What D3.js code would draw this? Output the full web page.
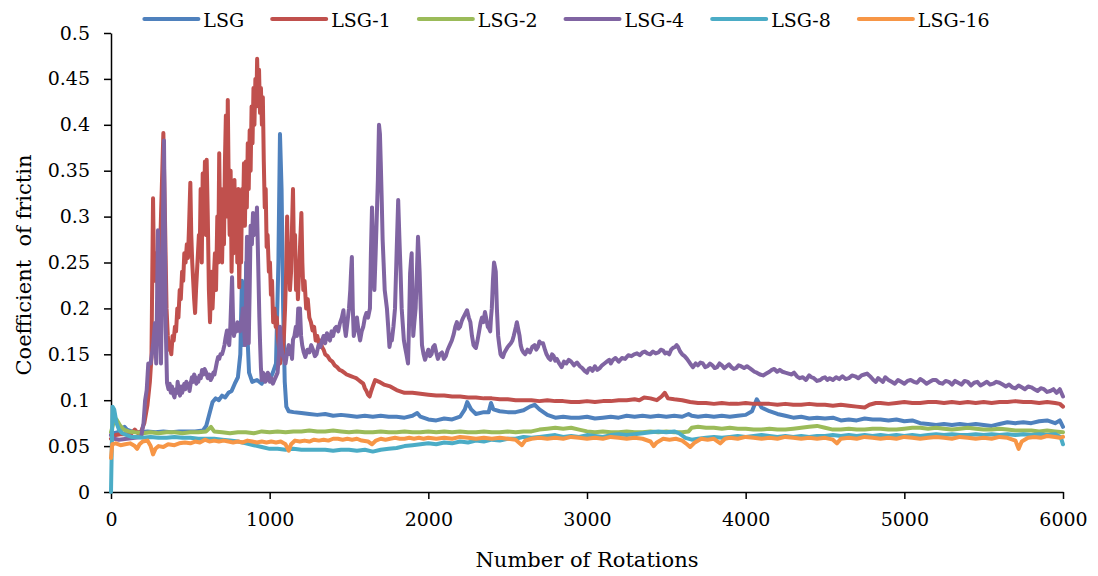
<!DOCTYPE html>
<html lang="en">
  <head>
    <meta charset="utf-8">
    <title>Coefficient of friction vs rotations</title>
    <script src="https://d3js.org/d3.v7.min.js"></script>
    <style>
      body { margin: 0; background: #fff; }
      svg text { font-family: "DejaVu Serif", serif; fill: #000; }
      .axis path, .axis line { stroke: #000; stroke-width: 1.5px; }
    </style>
  </head>
  <body>
    <div id="chart"></div>
    <script>
    // [rotations, coefficient of friction]
    const lsg = [[0,0.062],[20,0.064],[60,0.066],[85,0.071],[100,0.068],[130,0.066],[180,0.065],[230,0.066],[280,0.065],[330,0.066],[380,0.065],[430,0.066],[480,0.066],[530,0.066],[580,0.067],[600,0.072],[620,0.085],[640,0.098],[660,0.102],[680,0.100],[700,0.105],[720,0.103],[740,0.108],[760,0.110],[780,0.118],[800,0.125],[815,0.150],[825,0.230],[832,0.160],[845,0.170],[852,0.250],[860,0.170],[870,0.130],[890,0.120],[920,0.122],[950,0.118],[980,0.125],[1000,0.122],[1020,0.130],[1040,0.140],[1055,0.250],[1065,0.390],[1075,0.330],[1085,0.200],[1095,0.120],[1105,0.093],[1120,0.088],[1150,0.087],[1200,0.086],[1250,0.085],[1300,0.084],[1350,0.085],[1400,0.083],[1450,0.084],[1500,0.083],[1550,0.082],[1600,0.083],[1650,0.082],[1700,0.083],[1750,0.082],[1800,0.082],[1850,0.081],[1900,0.083],[1930,0.086],[1950,0.082],[2000,0.079],[2050,0.078],[2100,0.080],[2150,0.079],[2200,0.082],[2230,0.090],[2245,0.098],[2270,0.090],[2300,0.085],[2350,0.087],[2380,0.087],[2395,0.097],[2410,0.090],[2450,0.088],[2500,0.087],[2550,0.087],[2600,0.089],[2640,0.093],[2670,0.095],[2700,0.090],[2750,0.084],[2800,0.081],[2850,0.082],[2900,0.081],[2950,0.081],[3000,0.082],[3050,0.080],[3100,0.081],[3150,0.082],[3200,0.081],[3250,0.083],[3300,0.082],[3350,0.083],[3400,0.082],[3450,0.083],[3500,0.082],[3550,0.083],[3600,0.082],[3640,0.085],[3660,0.083],[3700,0.082],[3750,0.083],[3800,0.082],[3850,0.083],[3900,0.082],[3950,0.083],[4000,0.084],[4040,0.088],[4070,0.101],[4100,0.092],[4150,0.088],[4200,0.085],[4250,0.083],[4300,0.081],[4350,0.082],[4400,0.080],[4450,0.081],[4500,0.080],[4550,0.081],[4600,0.078],[4650,0.079],[4700,0.078],[4750,0.080],[4800,0.079],[4850,0.079],[4900,0.078],[4950,0.079],[5000,0.077],[5050,0.078],[5100,0.075],[5150,0.074],[5200,0.073],[5250,0.074],[5300,0.073],[5350,0.074],[5400,0.073],[5450,0.074],[5500,0.073],[5550,0.072],[5600,0.074],[5650,0.076],[5700,0.075],[5750,0.076],[5800,0.075],[5850,0.077],[5900,0.078],[5950,0.075],[5980,0.078],[6000,0.071]]

    const lsg1 = [[0,0.058],[30,0.062],[60,0.063],[100,0.063],[130,0.064],[150,0.068],[170,0.064],[190,0.066],[210,0.075],[230,0.095],[245,0.12],[255,0.147],[265,0.32],[272,0.23],[285,0.26],[300,0.2],[315,0.3],[330,0.391],[340,0.3],[350,0.2],[358,0.17],[365,0.155],[372,0.16],[380,0.15],[388,0.17],[395,0.165],[403,0.18],[410,0.175],[418,0.2],[425,0.19],[433,0.22],[440,0.21],[448,0.24],[455,0.23],[462,0.26],[470,0.25],[478,0.27],[485,0.255],[492,0.29],[500,0.337],[506,0.28],[512,0.25],[518,0.23],[524,0.21],[530,0.195],[536,0.22],[542,0.24],[548,0.26],[554,0.28],[560,0.27],[565,0.33],[572,0.25],[578,0.347],[585,0.3],[592,0.36],[598,0.28],[603,0.362],[610,0.3],[617,0.22],[624,0.185],[632,0.24],[640,0.2],[647,0.23],[655,0.26],[662,0.22],[670,0.3],[676,0.25],[682,0.369],[688,0.28],[694,0.33],[700,0.25],[706,0.3],[712,0.27],[718,0.36],[724,0.41],[730,0.3],[736,0.427],[742,0.33],[748,0.28],[754,0.35],[760,0.24],[766,0.3],[772,0.26],[778,0.34],[784,0.27],[790,0.32],[796,0.25],[802,0.33],[808,0.223],[814,0.28],[820,0.25],[826,0.33],[832,0.3],[838,0.358],[844,0.29],[850,0.36],[856,0.31],[862,0.38],[868,0.33],[874,0.394],[880,0.35],[886,0.42],[892,0.38],[898,0.44],[904,0.4],[910,0.45],[916,0.42],[921,0.472],[927,0.43],[933,0.46],[939,0.413],[945,0.44],[951,0.4],[957,0.43],[963,0.36],[969,0.31],[975,0.33],[981,0.267],[987,0.28],[995,0.24],[1002,0.25],[1008,0.215],[1015,0.23],[1022,0.185],[1030,0.2],[1038,0.18],[1045,0.19],[1052,0.17],[1060,0.155],[1066,0.14],[1074,0.16],[1082,0.15],[1090,0.17],[1097,0.2],[1104,0.24],[1110,0.3],[1116,0.25],[1122,0.27],[1128,0.22],[1135,0.24],[1141,0.29],[1147,0.33],[1153,0.26],[1160,0.28],[1166,0.22],[1172,0.25],[1178,0.21],[1185,0.24],[1192,0.27],[1200,0.304],[1206,0.25],[1212,0.22],[1220,0.23],[1230,0.2],[1240,0.21],[1250,0.19],[1260,0.185],[1270,0.176],[1280,0.18],[1290,0.165],[1300,0.17],[1310,0.162],[1320,0.165],[1330,0.158],[1340,0.155],[1350,0.15],[1365,0.148],[1380,0.144],[1395,0.142],[1410,0.138],[1425,0.136],[1440,0.133],[1455,0.132],[1470,0.13],[1485,0.128],[1500,0.127],[1515,0.126],[1530,0.125],[1545,0.124],[1560,0.122],[1575,0.12],[1590,0.118],[1600,0.113],[1610,0.11],[1620,0.106],[1630,0.104],[1640,0.11],[1650,0.115],[1665,0.122],[1690,0.12],[1720,0.117],[1760,0.115],[1800,0.111],[1850,0.108],[1900,0.108],[1950,0.107],[2000,0.106],[2050,0.105],[2100,0.105],[2150,0.104],[2200,0.104],[2250,0.103],[2300,0.103],[2350,0.102],[2400,0.102],[2450,0.101],[2500,0.101],[2550,0.1],[2600,0.1],[2650,0.1],[2700,0.099],[2750,0.1],[2800,0.099],[2850,0.099],[2900,0.098],[2950,0.098],[3000,0.099],[3050,0.098],[3100,0.099],[3150,0.099],[3200,0.1],[3250,0.1],[3300,0.101],[3330,0.1],[3360,0.103],[3400,0.102],[3440,0.1],[3470,0.104],[3490,0.108],[3510,0.102],[3550,0.101],[3600,0.1],[3650,0.098],[3700,0.097],[3750,0.097],[3800,0.096],[3850,0.097],[3900,0.096],[3950,0.096],[4000,0.097],[4050,0.096],[4100,0.096],[4150,0.096],[4200,0.095],[4250,0.096],[4300,0.095],[4350,0.095],[4400,0.096],[4450,0.095],[4500,0.095],[4550,0.094],[4600,0.095],[4650,0.094],[4700,0.093],[4750,0.092],[4780,0.095],[4820,0.097],[4850,0.097],[4900,0.096],[4950,0.097],[5000,0.098],[5050,0.097],[5100,0.097],[5150,0.098],[5200,0.098],[5250,0.097],[5300,0.098],[5350,0.097],[5400,0.098],[5450,0.097],[5500,0.098],[5550,0.097],[5600,0.098],[5650,0.098],[5700,0.099],[5750,0.098],[5800,0.098],[5850,0.097],[5900,0.098],[5950,0.097],[5980,0.096],[6000,0.093]]

    const lsg2 = [[0,0.065],[15,0.075],[35,0.079],[55,0.073],[80,0.068],[110,0.066],[150,0.065],[200,0.064],[250,0.065],[300,0.064],[350,0.065],[400,0.065],[450,0.064],[500,0.065],[550,0.065],[600,0.066],[630,0.071],[650,0.066],[700,0.065],[750,0.064],[800,0.065],[850,0.065],[900,0.064],[950,0.066],[1000,0.065],[1050,0.066],[1100,0.065],[1150,0.066],[1200,0.066],[1250,0.067],[1300,0.066],[1350,0.066],[1400,0.067],[1450,0.066],[1500,0.065],[1550,0.066],[1600,0.065],[1650,0.065],[1700,0.066],[1750,0.065],[1800,0.065],[1850,0.066],[1900,0.065],[1950,0.065],[2000,0.066],[2050,0.065],[2100,0.066],[2150,0.065],[2200,0.066],[2250,0.065],[2300,0.065],[2350,0.066],[2400,0.065],[2450,0.065],[2500,0.066],[2550,0.065],[2600,0.066],[2650,0.066],[2700,0.068],[2750,0.069],[2800,0.07],[2850,0.069],[2900,0.07],[2950,0.068],[3000,0.066],[3050,0.065],[3100,0.066],[3150,0.065],[3200,0.065],[3250,0.066],[3300,0.065],[3350,0.065],[3400,0.066],[3450,0.065],[3500,0.066],[3550,0.065],[3600,0.065],[3640,0.066],[3660,0.07],[3700,0.071],[3750,0.07],[3800,0.07],[3850,0.069],[3900,0.07],[3950,0.069],[4000,0.069],[4050,0.068],[4100,0.068],[4150,0.069],[4200,0.068],[4250,0.068],[4300,0.069],[4350,0.07],[4400,0.071],[4450,0.072],[4500,0.07],[4550,0.068],[4600,0.068],[4650,0.069],[4700,0.068],[4750,0.068],[4800,0.069],[4850,0.069],[4900,0.068],[4950,0.068],[5000,0.069],[5050,0.07],[5100,0.07],[5150,0.069],[5200,0.07],[5250,0.069],[5300,0.068],[5350,0.069],[5400,0.07],[5450,0.069],[5500,0.068],[5550,0.068],[5600,0.069],[5650,0.068],[5700,0.067],[5750,0.067],[5800,0.067],[5850,0.066],[5900,0.067],[5950,0.066],[6000,0.065]]

    const lsg4 = [[0,0.062],[20,0.058],[50,0.057],[100,0.058],[150,0.059],[190,0.06],[205,0.075],[215,0.1],[225,0.111],[235,0.14],[250,0.14],[265,0.16],[277,0.184],[285,0.14],[296,0.285],[305,0.2],[315,0.14],[334,0.383],[345,0.18],[353,0.119],[362,0.112],[370,0.118],[377,0.108],[384,0.115],[392,0.107],[400,0.103],[408,0.112],[415,0.108],[420,0.12],[428,0.11],[435,0.105],[442,0.115],[448,0.108],[455,0.112],[462,0.118],[468,0.112],[475,0.12],[482,0.114],[488,0.118],[495,0.11],[502,0.118],[510,0.125],[518,0.12],[524,0.128],[530,0.125],[538,0.118],[544,0.124],[550,0.12],[558,0.127],[566,0.124],[574,0.133],[582,0.128],[590,0.134],[600,0.13],[610,0.124],[620,0.128],[628,0.122],[637,0.125],[645,0.13],[652,0.128],[660,0.135],[668,0.142],[675,0.147],[682,0.145],[690,0.15],[700,0.15],[708,0.155],[715,0.16],[722,0.168],[731,0.176],[738,0.165],[745,0.16],[752,0.18],[758,0.21],[763,0.234],[769,0.19],[775,0.17],[782,0.178],[790,0.175],[797,0.185],[805,0.18],[812,0.175],[820,0.18],[826,0.19],[832,0.2],[838,0.18],[845,0.16],[851,0.21],[857,0.278],[863,0.2],[868,0.162],[874,0.22],[880,0.29],[888,0.27],[895,0.304],[902,0.28],[910,0.3],[915,0.29],[920,0.31],[925,0.27],[930,0.23],[935,0.19],[940,0.16],[945,0.135],[950,0.122],[958,0.13],[965,0.128],[972,0.12],[980,0.122],[988,0.13],[995,0.128],[1002,0.12],[1010,0.124],[1020,0.118],[1030,0.122],[1040,0.126],[1050,0.13],[1058,0.15],[1065,0.18],[1072,0.16],[1080,0.15],[1090,0.145],[1100,0.14],[1110,0.152],[1120,0.16],[1128,0.15],[1135,0.155],[1141,0.145],[1147,0.166],[1156,0.17],[1165,0.18],[1172,0.17],[1180,0.2],[1186,0.19],[1191,0.2],[1198,0.17],[1205,0.16],[1215,0.152],[1225,0.147],[1238,0.155],[1250,0.152],[1262,0.16],[1273,0.155],[1285,0.148],[1295,0.15],[1308,0.16],[1320,0.158],[1330,0.165],[1340,0.17],[1350,0.162],[1361,0.173],[1370,0.168],[1380,0.165],[1390,0.175],[1400,0.17],[1410,0.178],[1420,0.18],[1432,0.175],[1443,0.184],[1455,0.19],[1465,0.198],[1472,0.18],[1480,0.17],[1490,0.185],[1500,0.2],[1508,0.22],[1513,0.24],[1518,0.256],[1524,0.2],[1530,0.17],[1540,0.18],[1550,0.19],[1560,0.175],[1570,0.165],[1580,0.175],[1590,0.18],[1600,0.19],[1610,0.195],[1620,0.19],[1632,0.2],[1638,0.26],[1645,0.31],[1652,0.26],[1660,0.22],[1668,0.26],[1675,0.3],[1682,0.34],[1689,0.4],[1695,0.39],[1700,0.36],[1706,0.32],[1712,0.275],[1718,0.25],[1725,0.22],[1732,0.21],[1739,0.2],[1747,0.18],[1755,0.158],[1762,0.165],[1770,0.165],[1780,0.18],[1790,0.2],[1800,0.26],[1810,0.318],[1817,0.28],[1825,0.24],[1832,0.2],[1840,0.18],[1846,0.165],[1853,0.158],[1862,0.15],[1872,0.14],[1878,0.18],[1885,0.238],[1890,0.25],[1895,0.26],[1900,0.21],[1905,0.17],[1912,0.185],[1920,0.2],[1928,0.24],[1935,0.278],[1940,0.26],[1945,0.24],[1952,0.2],[1960,0.16],[1970,0.15],[1979,0.144],[1990,0.15],[2000,0.155],[2010,0.148],[2020,0.15],[2030,0.158],[2040,0.16],[2050,0.152],[2060,0.145],[2072,0.15],[2086,0.152],[2098,0.145],[2110,0.148],[2122,0.155],[2135,0.16],[2148,0.165],[2160,0.172],[2170,0.18],[2180,0.185],[2190,0.178],[2200,0.18],[2210,0.186],[2220,0.19],[2232,0.194],[2244,0.198],[2255,0.19],[2265,0.185],[2275,0.17],[2285,0.16],[2293,0.158],[2300,0.157],[2310,0.165],[2320,0.175],[2330,0.185],[2338,0.19],[2347,0.185],[2357,0.196],[2366,0.188],[2375,0.18],[2383,0.178],[2390,0.175],[2395,0.19],[2400,0.2],[2407,0.23],[2414,0.25],[2420,0.245],[2425,0.24],[2432,0.2],[2440,0.17],[2447,0.16],[2455,0.15],[2462,0.148],[2470,0.147],[2480,0.152],[2490,0.155],[2500,0.158],[2510,0.16],[2520,0.162],[2530,0.165],[2538,0.17],[2545,0.175],[2552,0.18],[2558,0.185],[2566,0.178],[2575,0.17],[2582,0.16],[2590,0.155],[2600,0.152],[2610,0.15],[2625,0.155],[2640,0.152],[2655,0.158],[2670,0.16],[2680,0.155],[2691,0.158],[2700,0.164],[2710,0.162],[2723,0.162],[2735,0.155],[2745,0.15],[2758,0.146],[2770,0.144],[2780,0.15],[2790,0.148],[2800,0.143],[2810,0.145],[2825,0.14],[2840,0.136],[2855,0.142],[2870,0.14],[2885,0.144],[2900,0.142],[2918,0.138],[2937,0.141],[2955,0.137],[2970,0.135],[2985,0.132],[3000,0.13],[3010,0.134],[3020,0.135],[3035,0.132],[3050,0.137],[3065,0.133],[3080,0.135],[3095,0.138],[3110,0.14],[3125,0.142],[3140,0.144],[3150,0.14],[3164,0.144],[3180,0.146],[3200,0.142],[3220,0.146],[3240,0.145],[3260,0.149],[3280,0.148],[3297,0.15],[3315,0.151],[3332,0.149],[3350,0.152],[3365,0.153],[3380,0.151],[3398,0.15],[3416,0.153],[3433,0.151],[3450,0.152],[3465,0.155],[3480,0.154],[3492,0.151],[3504,0.152],[3518,0.15],[3530,0.155],[3542,0.157],[3555,0.158],[3565,0.16],[3574,0.158],[3587,0.153],[3600,0.15],[3615,0.148],[3630,0.145],[3650,0.14],[3668,0.136],[3685,0.14],[3700,0.138],[3715,0.141],[3730,0.14],[3745,0.136],[3760,0.137],[3775,0.14],[3790,0.138],[3805,0.135],[3820,0.136],[3835,0.14],[3850,0.138],[3865,0.135],[3880,0.137],[3895,0.139],[3910,0.136],[3925,0.134],[3940,0.135],[3955,0.138],[3970,0.137],[3990,0.135],[4008,0.137],[4025,0.135],[4040,0.133],[4055,0.131],[4070,0.13],[4090,0.128],[4110,0.127],[4130,0.129],[4150,0.131],[4165,0.133],[4180,0.134],[4198,0.131],[4215,0.133],[4232,0.131],[4250,0.13],[4270,0.129],[4290,0.128],[4305,0.13],[4323,0.126],[4340,0.124],[4360,0.125],[4380,0.122],[4400,0.127],[4415,0.125],[4430,0.124],[4450,0.121],[4470,0.122],[4485,0.124],[4500,0.125],[4515,0.122],[4530,0.124],[4550,0.122],[4570,0.125],[4590,0.123],[4610,0.126],[4630,0.123],[4650,0.124],[4670,0.127],[4690,0.126],[4710,0.124],[4730,0.127],[4748,0.128],[4765,0.129],[4778,0.127],[4790,0.125],[4805,0.122],[4820,0.12],[4835,0.124],[4850,0.122],[4865,0.12],[4880,0.125],[4900,0.122],[4920,0.12],[4940,0.118],[4960,0.122],[4980,0.12],[5000,0.118],[5020,0.121],[5040,0.122],[5060,0.12],[5080,0.119],[5100,0.123],[5120,0.121],[5140,0.118],[5160,0.12],[5180,0.122],[5200,0.122],[5220,0.119],[5240,0.118],[5260,0.121],[5280,0.12],[5300,0.117],[5320,0.121],[5340,0.119],[5360,0.117],[5380,0.121],[5400,0.12],[5420,0.116],[5440,0.119],[5460,0.12],[5480,0.116],[5500,0.118],[5520,0.12],[5540,0.117],[5560,0.118],[5580,0.12],[5600,0.119],[5620,0.117],[5640,0.115],[5660,0.117],[5680,0.114],[5700,0.113],[5720,0.116],[5740,0.114],[5760,0.112],[5780,0.115],[5800,0.114],[5820,0.112],[5840,0.11],[5860,0.113],[5880,0.112],[5900,0.109],[5920,0.11],[5940,0.112],[5960,0.108],[5980,0.112],[6000,0.104]]

    const lsg8 = [[0,0],[5,0.05],[10,0.093],[20,0.09],[35,0.075],[50,0.068],[70,0.064],[100,0.062],[130,0.06],[160,0.06],[200,0.059],[250,0.06],[300,0.059],[350,0.059],[400,0.06],[450,0.059],[500,0.059],[550,0.058],[600,0.058],[650,0.058],[700,0.057],[750,0.056],[800,0.055],[850,0.053],[900,0.051],[950,0.049],[1000,0.047],[1050,0.047],[1100,0.046],[1150,0.047],[1200,0.046],[1250,0.046],[1300,0.046],[1350,0.046],[1400,0.045],[1450,0.046],[1500,0.046],[1550,0.045],[1600,0.046],[1650,0.044],[1700,0.046],[1750,0.047],[1800,0.048],[1850,0.05],[1900,0.051],[1950,0.052],[2000,0.053],[2050,0.052],[2100,0.054],[2150,0.053],[2200,0.055],[2250,0.054],[2300,0.056],[2350,0.055],[2400,0.057],[2450,0.056],[2500,0.058],[2550,0.058],[2600,0.06],[2650,0.059],[2700,0.06],[2750,0.061],[2800,0.062],[2850,0.06],[2900,0.061],[2950,0.06],[3000,0.062],[3050,0.061],[3100,0.06],[3150,0.062],[3200,0.063],[3250,0.062],[3300,0.063],[3350,0.064],[3400,0.065],[3450,0.066],[3500,0.065],[3550,0.066],[3580,0.064],[3620,0.059],[3660,0.057],[3700,0.058],[3750,0.059],[3800,0.06],[3850,0.059],[3900,0.06],[3950,0.061],[4000,0.06],[4050,0.061],[4100,0.062],[4150,0.061],[4200,0.06],[4250,0.061],[4300,0.06],[4350,0.061],[4400,0.06],[4450,0.061],[4500,0.061],[4550,0.062],[4600,0.061],[4650,0.062],[4700,0.061],[4750,0.062],[4800,0.061],[4850,0.062],[4900,0.061],[4950,0.062],[5000,0.061],[5050,0.062],[5100,0.061],[5150,0.062],[5200,0.063],[5250,0.062],[5300,0.063],[5350,0.062],[5400,0.062],[5450,0.063],[5500,0.062],[5550,0.063],[5600,0.062],[5650,0.063],[5700,0.062],[5750,0.063],[5800,0.062],[5850,0.063],[5900,0.062],[5950,0.063],[5985,0.06],[6000,0.052]]

    const lsg16 = [[0,0.037],[8,0.052],[30,0.053],[60,0.051],[90,0.052],[120,0.053],[150,0.05],[165,0.047],[180,0.052],[200,0.055],[230,0.056],[250,0.05],[265,0.041],[280,0.047],[300,0.05],[330,0.049],[360,0.052],[400,0.051],[430,0.053],[466,0.054],[500,0.053],[530,0.055],[560,0.054],[592,0.057],[620,0.055],[650,0.056],[680,0.055],[710,0.056],[740,0.055],[770,0.054],[800,0.055],[830,0.054],[860,0.056],[890,0.055],[920,0.054],[950,0.055],[980,0.054],[1010,0.055],[1040,0.054],[1070,0.055],[1100,0.052],[1120,0.045],[1135,0.052],[1160,0.056],[1190,0.055],[1220,0.056],[1250,0.055],[1280,0.057],[1310,0.056],[1340,0.057],[1370,0.056],[1400,0.058],[1430,0.058],[1460,0.057],[1490,0.058],[1520,0.057],[1550,0.058],[1580,0.056],[1620,0.055],[1645,0.052],[1670,0.056],[1700,0.058],[1730,0.057],[1760,0.058],[1790,0.059],[1820,0.058],[1850,0.058],[1880,0.059],[1910,0.058],[1940,0.059],[1970,0.058],[2000,0.059],[2050,0.058],[2100,0.059],[2150,0.058],[2200,0.06],[2250,0.059],[2300,0.058],[2350,0.059],[2400,0.058],[2450,0.059],[2500,0.058],[2550,0.057],[2590,0.051],[2610,0.056],[2650,0.058],[2700,0.059],[2750,0.058],[2800,0.059],[2850,0.058],[2900,0.06],[2950,0.059],[3000,0.058],[3050,0.059],[3100,0.058],[3150,0.06],[3200,0.059],[3250,0.058],[3300,0.059],[3350,0.058],[3400,0.055],[3420,0.05],[3440,0.054],[3480,0.058],[3520,0.057],[3560,0.058],[3600,0.056],[3630,0.052],[3650,0.049],[3680,0.054],[3720,0.058],[3760,0.057],[3800,0.058],[3840,0.053],[3870,0.058],[3900,0.059],[3950,0.058],[4000,0.06],[4050,0.059],[4100,0.058],[4150,0.059],[4200,0.058],[4250,0.06],[4300,0.059],[4350,0.058],[4400,0.059],[4450,0.058],[4500,0.059],[4550,0.057],[4575,0.053],[4600,0.058],[4650,0.059],[4700,0.058],[4750,0.06],[4800,0.059],[4850,0.058],[4900,0.059],[4950,0.058],[5000,0.06],[5050,0.059],[5100,0.058],[5150,0.059],[5200,0.06],[5250,0.059],[5300,0.058],[5350,0.06],[5400,0.059],[5450,0.058],[5500,0.059],[5550,0.058],[5600,0.06],[5650,0.059],[5700,0.056],[5720,0.047],[5740,0.055],[5780,0.059],[5820,0.06],[5860,0.059],[5900,0.061],[5950,0.06],[5980,0.059],[6000,0.06]]

    const seriesNames = ["LSG", "LSG-1", "LSG-2", "LSG-4", "LSG-8", "LSG-16"]
    const seriesValues = [lsg, lsg1, lsg2, lsg4, lsg8, lsg16]
    const seriesColors = ["#4F81BD", "#C0504D", "#9BBB59", "#8064A2", "#4BACC6", "#F79646"]
    const xTicks = [0, 1000, 2000, 3000, 4000, 5000, 6000]
    const yTicks = [0, 0.05, 0.1, 0.15, 0.2, 0.25, 0.3, 0.35, 0.4, 0.45, 0.5]

    const measurements = { width: 1098, height: 576 }
    const plot = { left: 111, right: 1063, top: 33, bottom: 492 }

    const svg = d3.select("#chart").append("svg")
        .attr("width", measurements.width)
        .attr("height", measurements.height)

    const scaleX = d3.scaleLinear().domain([0, 6000]).range([plot.left, plot.right])
    const scaleY = d3.scaleLinear().domain([0, 0.5]).range([plot.bottom, plot.top])

    // axes
    const xAxis = d3.axisBottom(scaleX).tickValues(xTicks).tickSize(7).tickSizeOuter(0).tickPadding(14)
        .tickFormat(d3.format("d"))
    const yAxis = d3.axisLeft(scaleY).tickValues(yTicks).tickSize(7).tickSizeOuter(0).tickPadding(14)
        .tickFormat(d => String(+d.toFixed(2)))

    svg.append("g").attr("class", "axis")
        .attr("transform", "translate(0," + plot.bottom + ")")
        .call(xAxis)
        .selectAll("text").style("font-size", "19px")

    svg.append("g").attr("class", "axis")
        .attr("transform", "translate(" + plot.left + ",0)")
        .call(yAxis)
        .selectAll("text").style("font-size", "19px")

    // series, drawn in the original order so the last one is on top
    const line = d3.line().x(d => scaleX(d[0])).y(d => scaleY(d[1]))
    seriesValues.forEach(function (values, i) {
        svg.append("path")
            .datum(values)
            .attr("fill", "none")
            .attr("stroke", seriesColors[i])
            .attr("stroke-width", 4)
            .attr("stroke-linejoin", "round")
            .attr("stroke-linecap", "round")
            .attr("d", line)
    })

    // axis titles
    svg.append("text")
        .attr("x", (plot.left + plot.right) / 2)
        .attr("y", 567)
        .style("text-anchor", "middle")
        .style("font-size", "21px")
        .text("Number of Rotations")

    svg.append("text")
        .attr("transform", "translate(31," + 265 + ") rotate(-90)")
        .style("text-anchor", "middle")
        .style("font-size", "21px")
        .text("Coefficient \u00a0of frictin")

    // legend, laid out from the measured label widths
    const legend = svg.append("g")
    let lx = 0
    seriesNames.forEach(function (name, i) {
        const item = legend.append("g").attr("transform", "translate(" + lx + ",0)")
        item.append("line")
            .attr("x1", 0).attr("x2", 54)
            .attr("y1", 19).attr("y2", 19)
            .attr("stroke", seriesColors[i])
            .attr("stroke-width", 4)
            .attr("stroke-linecap", "round")
        const t = item.append("text")
            .attr("x", 59).attr("y", 27)
            .style("font-size", "19px")
            .text(name)
        lx += 59 + t.node().getComputedTextLength() + 28
    })
    const legendWidth = lx - 28
    legend.attr("transform", "translate(" + (567 - legendWidth / 2) + ",0)")
    </script>
  </body>
</html>
